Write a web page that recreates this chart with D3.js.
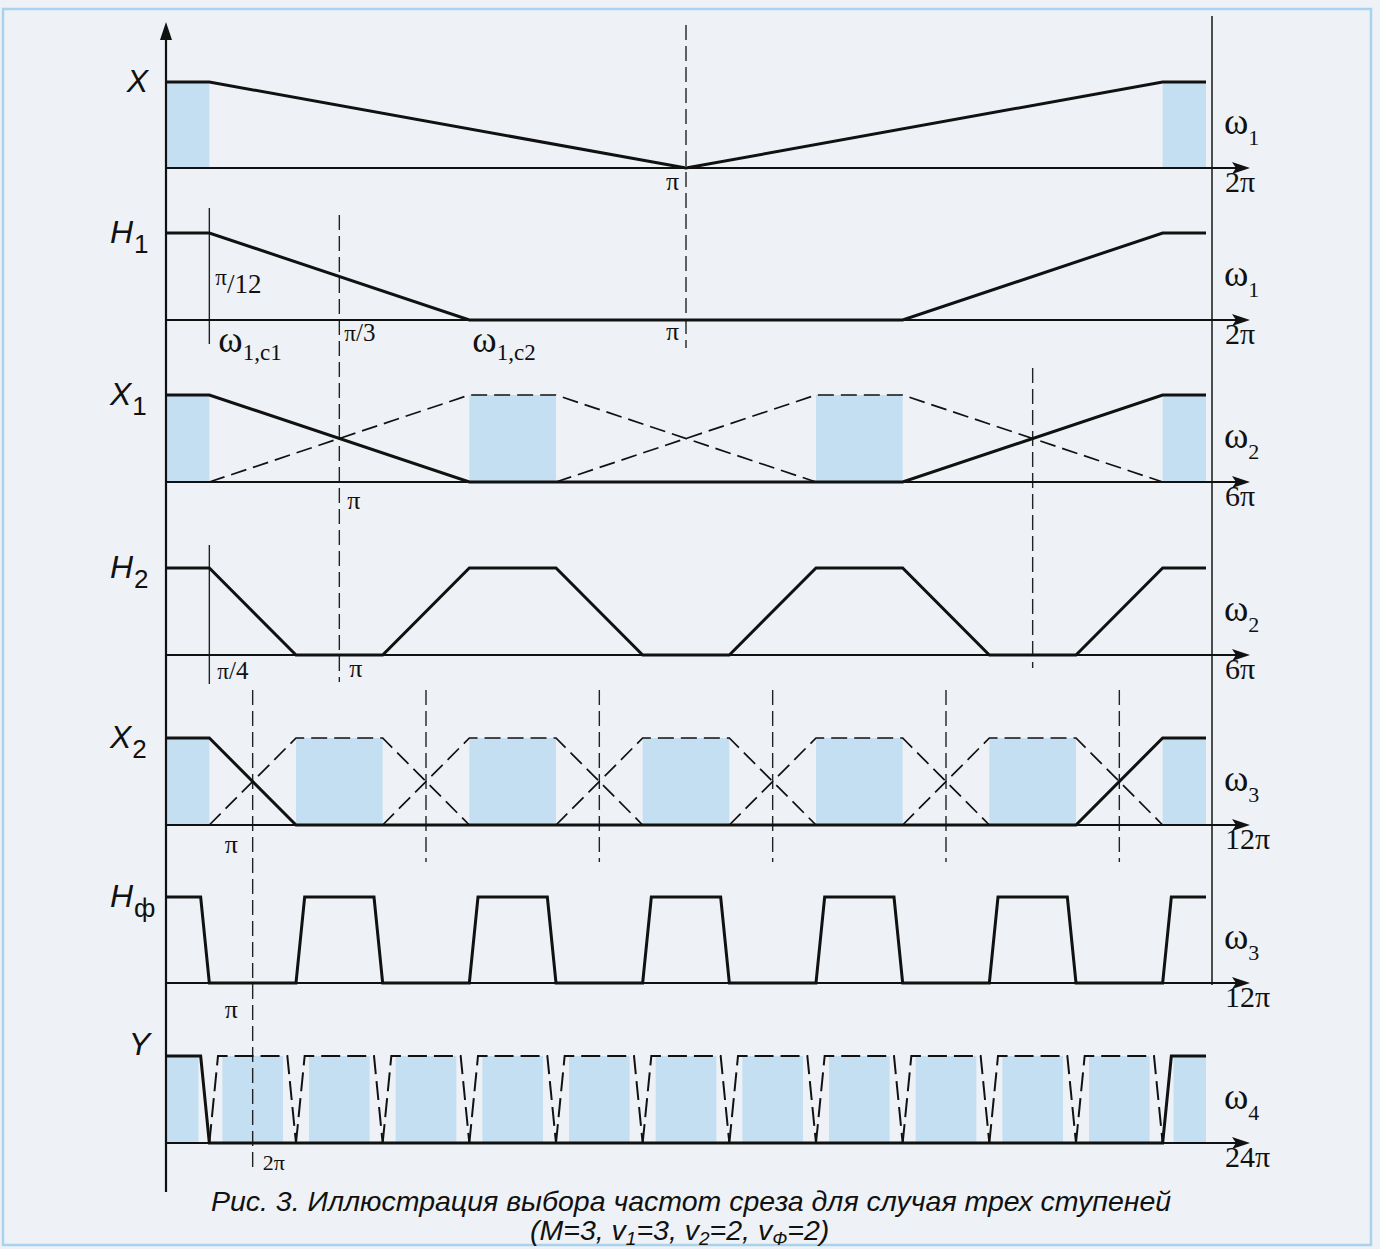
<!DOCTYPE html>
<html>
<head>
<meta charset="utf-8">
<script src="https://cdn.jsdelivr.net/npm/d3@7"></script>
<style>
  body { margin: 0; background: #eef2f6; }
  svg { display: block; }
</style>
</head>
<body>
<svg id="chart"></svg>
<script>
// all frequencies below are in units of pi
const panelNames  = ["X", "H", "X", "H", "X", "H", "Y"]
const panelSubs   = ["", "1", "1", "2", "2", "\u0444", ""]
const panelSpans  = [2, 2, 6, 6, 12, 12, 24]
const omegaSubs   = ["1", "1", "2", "2", "3", "3", "4"]
const endLabels   = ["2\u03c0", "2\u03c0", "6\u03c0", "6\u03c0", "12\u03c0", "12\u03c0", "24\u03c0"]

// X(w1)
const xSolid = [[0,1],[1/12,1],[1,0],[23/12,1],[2,1]]
const xShade = [[0,1/12],[23/12,2]]
// H1(w1)
const h1Solid = [[0,1],[1/12,1],[7/12,0],[17/12,0],[23/12,1],[2,1]]
// X1(w2)
const x1Solid = [[0,1],[0.25,1],[1.75,0],[4.25,0],[5.75,1],[6,1]]
const x1Dashed = [
  [[0.25,0],[1.75,1],[2.25,1],[3.75,0]],
  [[2.25,0],[3.75,1],[4.25,1],[5.75,0]]
]
const x1Shade = [[0,0.25],[1.75,2.25],[3.75,4.25],[5.75,6]]
// H2(w2)
const h2Solid = [[0,1],[0.25,1],[0.75,0],[1.25,0],[1.75,1],[2.25,1],[2.75,0],[3.25,0],
                 [3.75,1],[4.25,1],[4.75,0],[5.25,0],[5.75,1],[6,1]]
// X2(w3)
const x2Solid = [[0,1],[0.5,1],[1.5,0],[10.5,0],[11.5,1],[12,1]]
const x2Dashed = [
  [[0.5,0],[1.5,1],[2.5,1],[3.5,0]],
  [[2.5,0],[3.5,1],[4.5,1],[5.5,0]],
  [[4.5,0],[5.5,1],[6.5,1],[7.5,0]],
  [[6.5,0],[7.5,1],[8.5,1],[9.5,0]],
  [[8.5,0],[9.5,1],[10.5,1],[11.5,0]]
]
const x2Shade = [[0,0.5],[1.5,2.5],[3.5,4.5],[5.5,6.5],[7.5,8.5],[9.5,10.5],[11.5,12]]
const x2Cross = [1, 3, 5, 7, 9, 11]
// Hphi(w3)
const hfSolid = [[0,1],[0.4,1],[0.5,0],[1.5,0],[1.6,1],[2.4,1],[2.5,0],[3.5,0],[3.6,1],[4.4,1],
                 [4.5,0],[5.5,0],[5.6,1],[6.4,1],[6.5,0],[7.5,0],[7.6,1],[8.4,1],[8.5,0],
                 [9.5,0],[9.6,1],[10.4,1],[10.5,0],[11.5,0],[11.6,1],[12,1]]
// Y(w4)
const ySolid = [[0,1],[0.8,1],[1,0],[23,0],[23.2,1],[24,1]]
const yDashed = [
  [[1,0],[1.2,1],[2.8,1],[3,0]],
  [[3,0],[3.2,1],[4.8,1],[5,0]],
  [[5,0],[5.2,1],[6.8,1],[7,0]],
  [[7,0],[7.2,1],[8.8,1],[9,0]],
  [[9,0],[9.2,1],[10.8,1],[11,0]],
  [[11,0],[11.2,1],[12.8,1],[13,0]],
  [[13,0],[13.2,1],[14.8,1],[15,0]],
  [[15,0],[15.2,1],[16.8,1],[17,0]],
  [[17,0],[17.2,1],[18.8,1],[19,0]],
  [[19,0],[19.2,1],[20.8,1],[21,0]],
  [[21,0],[21.2,1],[22.8,1],[23,0]]
]
const yShade = [[0,0.75],[1.3,2.7],[3.3,4.7],[5.3,6.7],[7.3,8.7],[9.3,10.7],[11.3,12.7],
                [13.3,14.7],[15.3,16.7],[17.3,18.7],[19.3,20.7],[21.3,22.7],[23.25,24]]

const caption1 = "Рис. 3. Иллюстрация выбора частот среза для случая трех ступеней"

// ---- layout
const width = 1380, height = 1249
const left = 166, right = 1206
const panelTop  = [82, 233, 395, 568, 738, 897, 1056]
const panelBase = [168, 320, 482, 655, 825, 983, 1143]

const svg = d3.select("#chart")
  .attr("width", width)
  .attr("height", height)

svg.append("rect")
   .attr("x", 3).attr("y", 9)
   .attr("width", 1368).attr("height", 1236)
   .attr("fill", "#eef2f6")
   .attr("stroke", "#a9d2ee")
   .attr("stroke-width", 2.5)

const xs = panelSpans.map(s => d3.scaleLinear().domain([0, s]).range([left, right]))
const ys = panelTop.map((t, i) => d3.scaleLinear().domain([0, 1]).range([panelBase[i], t]))

const shadeG = svg.append("g").attr("fill", "#c4dff1")
const gridG  = svg.append("g")
const curveG = svg.append("g").attr("fill", "none").attr("stroke", "#111")
const axisG  = svg.append("g")
const textG  = svg.append("g").attr("fill", "#111")

function shade(i, bands) {
  shadeG.selectAll(null)
    .data(bands)
    .join("rect")
      .attr("x", d => xs[i](d[0]))
      .attr("width", d => xs[i](d[1]) - xs[i](d[0]))
      .attr("y", ys[i](1))
      .attr("height", ys[i](0) - ys[i](1))
}

function curve(i, pts, dashed) {
  const line = d3.line().x(d => xs[i](d[0])).y(d => ys[i](d[1]))
  curveG.append("path")
    .attr("d", line(pts))
    .attr("stroke-width", dashed ? (i === 6 ? 2 : 1.7) : 3)
    .attr("stroke-dasharray", dashed ? (i === 6 ? "19,7" : "16,7") : null)
}

function vline(x, y1, y2, dashed) {
  gridG.append("line")
    .attr("x1", x).attr("x2", x).attr("y1", y1).attr("y2", y2)
    .attr("stroke", "#222")
    .attr("stroke-width", 1.4)
    .attr("stroke-dasharray", dashed ? "15,6" : null)
}

shade(0, xShade)
shade(2, x1Shade)
shade(4, x2Shade)
shade(6, yShade)

curve(0, xSolid)
curve(1, h1Solid)
curve(2, x1Solid)
x1Dashed.forEach(d => curve(2, d, true))
curve(3, h2Solid)
curve(4, x2Solid)
x2Dashed.forEach(d => curve(4, d, true))
curve(5, hfSolid)
curve(6, ySolid)
yDashed.forEach(d => curve(6, d, true))

// marker lines
vline(xs[0](1), 25, 348, true)
vline(xs[1](1/12), 208, 344, false)
vline(xs[1](1/3), 215, 682, true)
vline(xs[2](5), 368, 668, true)
vline(xs[3](0.25), 545, 684, false)
x2Cross.forEach((c, k) => vline(xs[4](c), 690, k === 0 ? 1168 : 862, true))

// axes
axisG.append("line")
  .attr("x1", left).attr("x2", left).attr("y1", 30).attr("y2", 1192)
  .attr("stroke", "#111").attr("stroke-width", 2.2)
axisG.append("path")
  .attr("d", `M${left},22 L${left - 6},40 L${left + 6},40 Z`)
  .attr("fill", "#111")
axisG.append("line")
  .attr("x1", 1212).attr("x2", 1212).attr("y1", 16).attr("y2", 985)
  .attr("stroke", "#222").attr("stroke-width", 1.6)

panelBase.forEach(b => {
  axisG.append("line")
    .attr("x1", left).attr("x2", 1240).attr("y1", b).attr("y2", b)
    .attr("stroke", "#111").attr("stroke-width", 2)
  axisG.append("path")
    .attr("d", `M1250,${b} L1232,${b - 6} L1236,${b} L1232,${b + 6} Z`)
    .attr("fill", "#111")
})

// left names
panelNames.forEach((n, i) => {
  const t = textG.append("text")
    .attr("x", 148)
    .attr("y", i === 6 ? 1055 : panelTop[i] + 10)
    .attr("text-anchor", panelSubs[i] ? "start" : "end")
    .attr("font-family", "Liberation Sans, Arial, sans-serif")
    .attr("font-style", "italic")
    .attr("font-size", 32)
  if (panelSubs[i]) {
    t.attr("x", 110)
    t.append("tspan").text(n)
    t.append("tspan").attr("dy", 10).attr("dx", 1)
      .attr("font-size", 26).attr("font-style", "normal").text(panelSubs[i])
  } else {
    t.attr("x", i === 6 ? 150 : 148).text(n)
  }
})

// right omega labels and span labels
const serif = "Liberation Serif, Times New Roman, serif"
omegaSubs.forEach((s, i) => {
  const t = textG.append("text")
    .attr("x", 1224).attr("y", panelBase[i] - 34)
    .attr("font-family", serif).attr("font-size", 37)
  t.append("tspan").text("\u03c9")
  t.append("tspan").attr("dy", 11).attr("font-size", 22).text(s)
  textG.append("text")
    .attr("x", 1225).attr("y", panelBase[i] + 24)
    .attr("font-family", serif).attr("font-size", 30)
    .text(endLabels[i])
})

// tick labels
function label(x, y, txt, size) {
  return textG.append("text")
    .attr("x", x).attr("y", y)
    .attr("font-family", serif).attr("font-size", size || 26)
    .text(txt)
}
label(xs[0](1) - 20, 190, "\u03c0")
label(xs[1](1) - 20, 340, "\u03c0")
label(xs[2](1) + 8, 509, "\u03c0")
label(xs[3](1) + 10, 677, "\u03c0")
label(xs[4](1) - 28, 853, "\u03c0")
label(xs[5](1) - 28, 1018, "\u03c0")
label(xs[6](2) + 10, 1170, "2\u03c0", 22)

const f12 = label(xs[1](1/12) + 6, 285, "", 23)
f12.append("tspan").text("\u03c0")
f12.append("tspan").attr("dy", 8).attr("font-size", 27).text("/12")
const f3 = label(xs[1](1/3) + 5, 341, "", 23)
f3.append("tspan").text("\u03c0")
f3.append("tspan").attr("font-size", 25).text("/3")
const f4 = label(xs[3](0.25) + 8, 679, "", 23)
f4.append("tspan").text("\u03c0")
f4.append("tspan").attr("font-size", 25).text("/4")

function omegaC(x, sub) {
  const t = label(x, 352, "", 37)
  t.append("tspan").text("\u03c9")
  t.append("tspan").attr("dy", 8).attr("font-size", 23).text(sub)
}
omegaC(xs[1](1/12) + 9, "1,c1")
omegaC(xs[1](7/12) + 3, "1,c2")

// caption
const capFont = "Liberation Sans, Arial, sans-serif"
textG.append("text")
  .attr("x", 691).attr("y", 1211)
  .attr("text-anchor", "middle")
  .attr("font-family", capFont).attr("font-style", "italic").attr("font-size", 28.5)
  .text(caption1)
const c2 = textG.append("text")
  .attr("x", 530).attr("y", 1240)
  .attr("font-family", capFont).attr("font-style", "italic").attr("font-size", 28.5)
c2.append("tspan").text("(M=3, v")
c2.append("tspan").attr("dy", 5).attr("font-size", 19).text("1")
c2.append("tspan").attr("dy", -5).text("=3, v")
c2.append("tspan").attr("dy", 5).attr("font-size", 19).text("2")
c2.append("tspan").attr("dy", -5).text("=2, v")
c2.append("tspan").attr("dy", 5).attr("font-size", 19).text("\u0424")
c2.append("tspan").attr("dy", -5).text("=2)")
</script>
</body>
</html>
